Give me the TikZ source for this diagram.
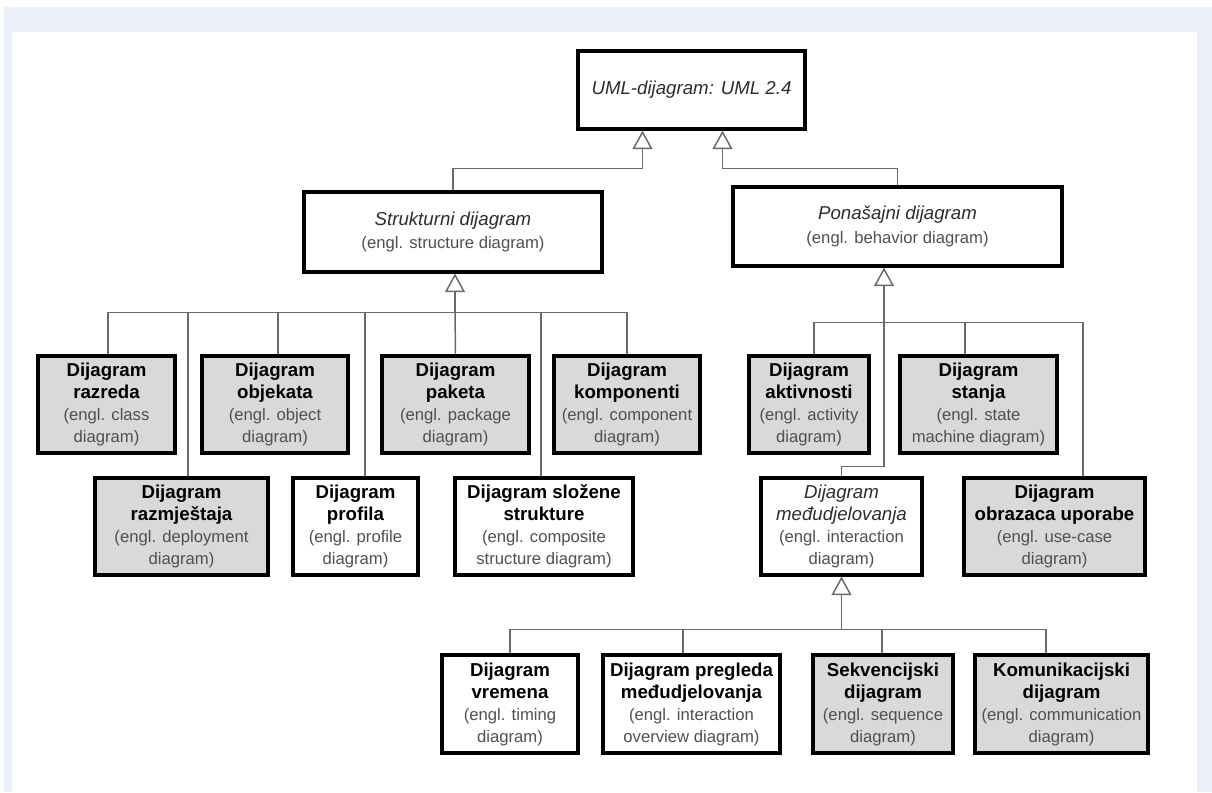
\documentclass[tikz,border=0pt]{standalone}
\usepackage{fontspec}
\setmainfont{Liberation Sans}
\usetikzlibrary{arrows.meta,calc}
\definecolor{pagebg}{RGB}{236,241,248}
\definecolor{boxgray}{RGB}{217,217,217}
\definecolor{linegray}{RGB}{105,105,105}
\definecolor{engltext}{RGB}{80,80,80}
\definecolor{ittext}{RGB}{45,45,45}
\newcommand\bxtitle[1]{{\fontsize{14}{16.5}\selectfont\bfseries #1}}
\newcommand\bxengl[1]{{\color{engltext}\fontsize{12.5}{16.5}\selectfont #1}}
\newcommand\bxital[1]{{\color{ittext}\fontsize{14}{16.5}\selectfont\itshape #1}}
\begin{document}
\begin{tikzpicture}[x=0.75pt,y=-0.75pt,
  sz/.style 2 args={minimum width=#1*0.75pt, minimum height=#2*0.75pt},
  box/.style={draw=black, line width=2.3pt, align=center, inner sep=0pt,
    font=\fontsize{14}{16.5}\selectfont},
  grayb/.style={box, fill=boxgray},
  whiteb/.style={box, fill=white},
  conn/.style={draw=linegray, line width=1.1pt},
  gen/.style={-{Triangle[open, width=15pt, length=14pt, line width=1.1pt]}}]

% page background and white panel
\path[use as bounding box] (0,0) rectangle (1212,792);
\fill[white] (0,0) rectangle (1212,792);
\fill[pagebg] (4,7) rectangle (1212,792);
\fill[white] (12,32) rectangle (1197,792);

% root and the two main kinds
\node[whiteb, sz={227}{78}] (uml) at (691.5,90) {\bxital{UML-dijagram: UML 2.4}};
\node[whiteb, sz={298}{80}] (struct) at (453,232)
  {\bxital{Strukturni dijagram}\\[1pt]\bxengl{(engl. structure diagram)}};
\node[whiteb, sz={329}{79}] (behav) at (897.5,226.5)
  {\bxital{Ponašajni dijagram}\\[1pt]\bxengl{(engl. behavior diagram)}};

% first row
\node[grayb, sz={137}{97}] (razreda) at (106.5,404.5)
  {\bxtitle{Dijagram}\\\bxtitle{razreda}\\\bxengl{(engl. class}\\\bxengl{diagram)}};
\node[grayb, sz={146}{97}] (objekata) at (275,404.5)
  {\bxtitle{Dijagram}\\\bxtitle{objekata}\\\bxengl{(engl. object}\\\bxengl{diagram)}};
\node[grayb, sz={147}{97}] (paketa) at (455.5,404.5)
  {\bxtitle{Dijagram}\\\bxtitle{paketa}\\\bxengl{(engl. package}\\\bxengl{diagram)}};
\node[grayb, sz={146}{97}] (komponenti) at (627,404.5)
  {\bxtitle{Dijagram}\\\bxtitle{komponenti}\\\bxengl{(engl. component}\\\bxengl{diagram)}};
\node[grayb, sz={120}{97}] (aktivnosti) at (809,404.5)
  {\bxtitle{Dijagram}\\\bxtitle{aktivnosti}\\\bxengl{(engl. activity}\\\bxengl{diagram)}};
\node[grayb, sz={157}{97}] (stanja) at (978.5,404.5)
  {\bxtitle{Dijagram}\\\bxtitle{stanja}\\\bxengl{(engl. state}\\\bxengl{machine diagram)}};

% second row
\node[grayb, sz={173}{97}] (razmjestaja) at (181.5,526.5)
  {\bxtitle{Dijagram}\\\bxtitle{razmještaja}\\\bxengl{(engl. deployment}\\\bxengl{diagram)}};
\node[whiteb, sz={125}{97}] (profila) at (355.5,526.5)
  {\bxtitle{Dijagram}\\\bxtitle{profila}\\\bxengl{(engl. profile}\\\bxengl{diagram)}};
\node[whiteb, sz={178}{97}] (slozene) at (544,526.5)
  {\bxtitle{Dijagram složene}\\\bxtitle{strukture}\\\bxengl{(engl. composite}\\\bxengl{structure diagram)}};
\node[whiteb, sz={161}{97}] (medu) at (841.5,526.5)
  {\bxital{Dijagram}\\\bxital{međudjelovanja}\\\bxengl{(engl. interaction}\\\bxengl{diagram)}};
\node[grayb, sz={181}{97}] (uporabe) at (1054.5,526.5)
  {\bxtitle{Dijagram}\\\bxtitle{obrazaca uporabe}\\\bxengl{(engl. use-case}\\\bxengl{diagram)}};

% third row
\node[whiteb, sz={136}{98}] (vremena) at (510,704)
  {\bxtitle{Dijagram}\\\bxtitle{vremena}\\\bxengl{(engl. timing}\\\bxengl{diagram)}};
\node[whiteb, sz={177}{98}] (pregleda) at (691.5,704)
  {\bxtitle{Dijagram pregleda}\\\bxtitle{međudjelovanja}\\\bxengl{(engl. interaction}\\\bxengl{overview diagram)}};
\node[grayb, sz={140}{98}] (sekv) at (883,704)
  {\bxtitle{Sekvencijski}\\\bxtitle{dijagram}\\\bxengl{(engl. sequence}\\\bxengl{diagram)}};
\node[grayb, sz={173}{98}] (komun) at (1061.5,704)
  {\bxtitle{Komunikacijski}\\\bxtitle{dijagram}\\\bxengl{(engl. communication}\\\bxengl{diagram)}};

% generalisations to the root
\draw[conn, gen] (struct.north) |- ($(uml.south)+(-49,38)$) -- ($(uml.south)+(-49,0)$);
\draw[conn, gen] (behav.north) |- ($(uml.south)+(31,38)$) -- ($(uml.south)+(31,0)$);

% structure diagrams
\coordinate (busS) at ($(struct.south)+(2,39)$);
\draw[conn] ([xshift=1.1pt]razreda.north) |- (busS);
\draw[conn] ([xshift=4.9pt]razmjestaja.north) |- (busS);
\draw[conn] ([xshift=2.25pt]objekata.north) |- (busS);
\draw[conn] ([xshift=7.1pt]profila.north) |- (busS);
\draw[conn] (paketa.north) -- (busS);
\draw[conn] ([xshift=-2.25pt]slozene.north) |- (busS);
\draw[conn] (komponenti.north) |- (busS);
\draw[conn, gen] (busS) -- ($(struct.south)+(2,0)$);

% behaviour diagrams
\coordinate (busB) at ($(behav.south)+(-13.5,55)$);
\draw[conn] ([xshift=3.75pt]aktivnosti.north) |- (busB);
\draw[conn] ([xshift=-10.1pt]stanja.north) |- (busB);
\draw[conn] ([xshift=21.4pt]uporabe.north) |- (busB);
\draw[conn, gen] (medu.north) |- ($(behav.south)+(-13.5,199)$) -- ($(behav.south)+(-13.5,0)$);

% interaction diagrams
\coordinate (busI) at ($(medu.south)+(0,53)$);
\draw[conn] (vremena.north) |- (busI);
\draw[conn] ([xshift=-6.4pt]pregleda.north) |- (busI);
\draw[conn] ([xshift=-0.75pt]sekv.north) |- (busI);
\draw[conn] ([xshift=-11.6pt]komun.north) |- (busI);
\draw[conn, gen] (busI) -- (medu.south);
\end{tikzpicture}
\end{document}
